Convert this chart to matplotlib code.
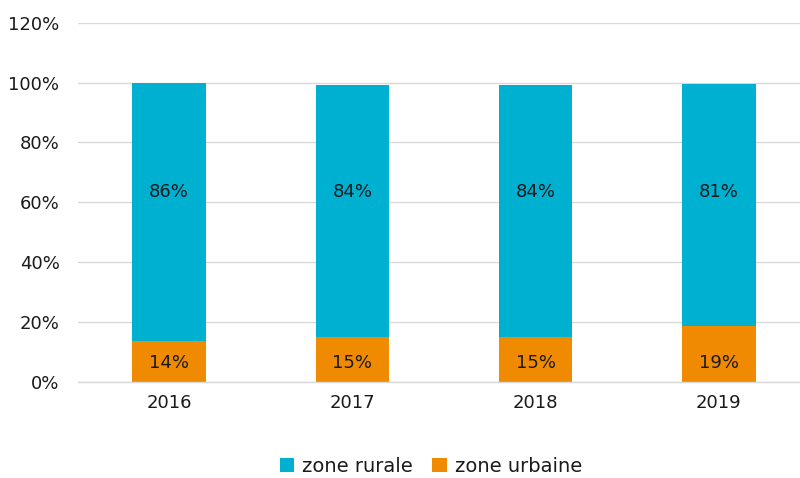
import matplotlib
matplotlib.use("Agg")
import matplotlib.pyplot as plt
import numpy as np
from matplotlib.ticker import FuncFormatter

years = ["2016", "2017", "2018", "2019"]
zone_urbaine = [13.6, 14.9, 14.9, 18.8]
zone_rurale = [86.4, 84.4, 84.4, 80.6]
y_ticks = [0, 20, 40, 60, 80, 100, 120]

BLUE = "#00B0D1"
ORANGE = "#F08A00"
TEXT = "#1A1A1A"
GRID = "#D9D9D9"

plt.rcParams["font.family"] = ["DejaVu Sans"]

fig = plt.figure(figsize=(8.0, 4.78), dpi=100)
ax = fig.add_axes([77.5 / 800, 96 / 478, 733 / 800, 359.3 / 478])

x = np.arange(len(years))
b1 = ax.bar(x, zone_urbaine, width=0.4, color=ORANGE, label="zone urbaine", zorder=3)
b2 = ax.bar(x, zone_rurale, width=0.4, bottom=zone_urbaine, color=BLUE, label="zone rurale", zorder=3)

# label heights (as in the original chart's label placement)
label_y_urb = 6.5
label_y_rur = 63.5
for xi, vu, vr in zip(x, zone_urbaine, zone_rurale):
    ax.text(xi, label_y_urb, f"{round(vu)}%", ha="center", va="center",
            fontsize=13, color=TEXT, zorder=4)
    ax.text(xi, label_y_rur, f"{round(vr)}%", ha="center", va="center",
            fontsize=13, color=TEXT, zorder=4)

ax.set_xlim(-0.5, len(years) - 0.5)
ax.set_ylim(0, 120)
ax.set_yticks(y_ticks)
ax.yaxis.set_major_formatter(FuncFormatter(lambda v, p: f"{v:.0f}%"))
ax.set_xticks(x)
ax.set_xticklabels(years)
ax.tick_params(axis="both", length=0, labelsize=13, labelcolor=TEXT)
ax.tick_params(axis="y", pad=13)
ax.tick_params(axis="x", pad=9)
ax.grid(axis="y", color=GRID, linewidth=1, zorder=0)
for s in ax.spines.values():
    s.set_visible(False)
ax.spines["bottom"].set_visible(True)
ax.spines["bottom"].set_color(GRID)
ax.spines["bottom"].set_linewidth(1)
ax.spines["bottom"].set_zorder(5)

handles = [b2, b1]
fig.legend(handles, ["zone rurale", "zone urbaine"], loc="center",
           bbox_to_anchor=(431 / 800, 1 - 466 / 478), ncol=2, frameon=False,
           fontsize=14, handlelength=0.75, handleheight=0.75, handletextpad=0.4,
           columnspacing=1.0, labelcolor=TEXT)

fig.savefig("out.png", dpi=100)
